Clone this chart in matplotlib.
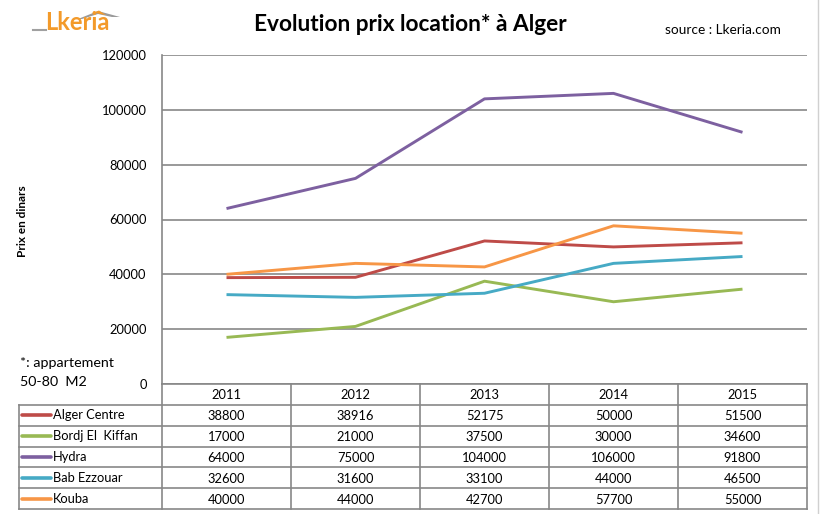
import matplotlib
matplotlib.use("Agg")
import matplotlib.pyplot as plt
from matplotlib.lines import Line2D
from matplotlib.patches import Polygon

years = ["2011", "2012", "2013", "2014", "2015"]
series_names = ["Alger Centre", "Bordj El  Kiffan", "Hydra", "Bab Ezzouar", "Kouba"]
alger_centre = [38800, 38916, 52175, 50000, 51500]
bordj_el_kiffan = [17000, 21000, 37500, 30000, 34600]
hydra = [64000, 75000, 104000, 106000, 91800]
bab_ezzouar = [32600, 31600, 33100, 44000, 46500]
kouba = [40000, 44000, 42700, 57700, 55000]
series_values = [alger_centre, bordj_el_kiffan, hydra, bab_ezzouar, kouba]
colors = ["#BE4B48", "#98B954", "#7D60A0", "#46AAC5", "#F79646"]
yticks = [0, 20000, 40000, 60000, 80000, 100000, 120000]

FONT = "Lato"
W, H = 823, 514
fig = plt.figure(figsize=(W / 100, H / 100), dpi=100)
fig.patch.set_facecolor("white")

def fx(px):
    return px / W

def fy(py):
    return 1 - py / H

# main plot area
L, R, T, B = 162, 807, 55, 384
ax = fig.add_axes([fx(L), fy(B), fx(R - L), (B - T) / H])
n = len(years)
xs = list(range(n))
for vals, c in zip(series_values, colors):
    ax.plot(xs, vals, color=c, lw=2.1, solid_capstyle="butt", zorder=3)
ax.set_xlim(-0.5, n - 0.5)
ax.set_ylim(0, 120000)
ax.set_yticks(yticks)
ax.set_yticklabels([str(v) for v in yticks], fontfamily=FONT, fontsize=9.3)
ax.set_xticks([])
ax.tick_params(axis="y", length=0, pad=11)
ax.grid(axis="y", color="#878787", lw=1.2)
ax.set_axisbelow(True)
for s in ["top", "right", "bottom"]:
    ax.spines[s].set_visible(False)
ax.spines["left"].set_color("#878787")
ax.spines["left"].set_linewidth(1.2)

# table axes below
TL, TB = 19, 509
label_w = (L - TL) / ((R - L) / n)
tax = fig.add_axes([fx(TL), fy(TB), fx(R - TL), (TB - B) / H])
tax.set_xlim(-0.5 - label_w, n - 0.5)
nrows = len(series_names) + 1
tax.set_ylim(nrows, 0)
tax.axis("off")
gc = "#878787"
lw = 1.2
tax.plot([-0.5, n - 0.5], [0, 0], color=gc, lw=lw, clip_on=False)
for r in range(1, nrows + 1):
    tax.plot([-0.5 - label_w, n - 0.5], [r, r], color=gc, lw=lw, clip_on=False)
for c in range(n + 1):
    tax.plot([c - 0.5, c - 0.5], [0, nrows], color=gc, lw=lw, clip_on=False)
tax.plot([-0.5 - label_w, -0.5 - label_w], [1, nrows], color=gc, lw=lw, clip_on=False)
for i, yr in enumerate(years):
    tax.text(i, 0.55, yr, ha="center", va="center", fontfamily=FONT, fontsize=9.3)
for r, (name, vals, c) in enumerate(zip(series_names, series_values, colors), start=1):
    x0 = -0.5 - label_w
    tax.plot([x0 + 0.025, x0 + 0.25], [r + 0.5, r + 0.5], color=c, lw=2.6, solid_capstyle="round")
    tax.text(x0 + 0.26, r + 0.5, name, ha="left", va="center", fontfamily=FONT, fontsize=9.3)
    for i, v in enumerate(vals):
        tax.text(i, r + 0.55, str(v), ha="center", va="center", fontfamily=FONT, fontsize=9.3)

# texts
fig.text(fx(410), fy(24), "Evolution prix location* à Alger", ha="center", va="center",
         fontfamily=FONT, fontsize=16.3, fontweight="bold")
fig.text(fx(723), fy(30), "source : Lkeria.com", ha="center", va="center",
         fontfamily=FONT, fontsize=9.8)
fig.text(fx(22), fy(221), "Prix en dinars", ha="center", va="center", rotation=90,
         fontfamily=FONT, fontsize=8.5, fontweight="bold")
fig.text(fx(20), fy(363), "*: appartement", ha="left", va="center", fontfamily=FONT, fontsize=10.3)
fig.text(fx(20), fy(382), "50-80  M2", ha="left", va="center", fontfamily=FONT, fontsize=10.3)

# logo
fig.text(fx(45), fy(23), "Lkeria", ha="left", va="center", color="#F39A2A",
         fontfamily=FONT, fontsize=17, fontweight="bold")
roof = Polygon([[fx(78), fy(19)], [fx(98), fy(11)], [fx(120), fy(17)], [fx(112), fy(17)],
                [fx(98), fy(14)], [fx(82), fy(19)]], closed=True, transform=fig.transFigure,
               facecolor="#9A9A9A", edgecolor="none")
fig.patches.append(roof)
roof2 = Polygon([[fx(94), fy(12.5)], [fx(99), fy(10.5)], [fx(106), fy(15)], [fx(100), fy(14)]],
                closed=True, transform=fig.transFigure, facecolor="#F39A2A", edgecolor="none")
fig.patches.append(roof2)
fig.add_artist(Line2D([fx(33), fx(46)], [fy(30), fy(30)], transform=fig.transFigure,
                      color="#A0A0A0", lw=1.5))

# right border
fig.add_artist(Line2D([fx(818), fx(818)], [0, 1], transform=fig.transFigure,
                      color="#D0D0D0", lw=1))

fig.savefig("out.png", dpi=100, facecolor="white")
